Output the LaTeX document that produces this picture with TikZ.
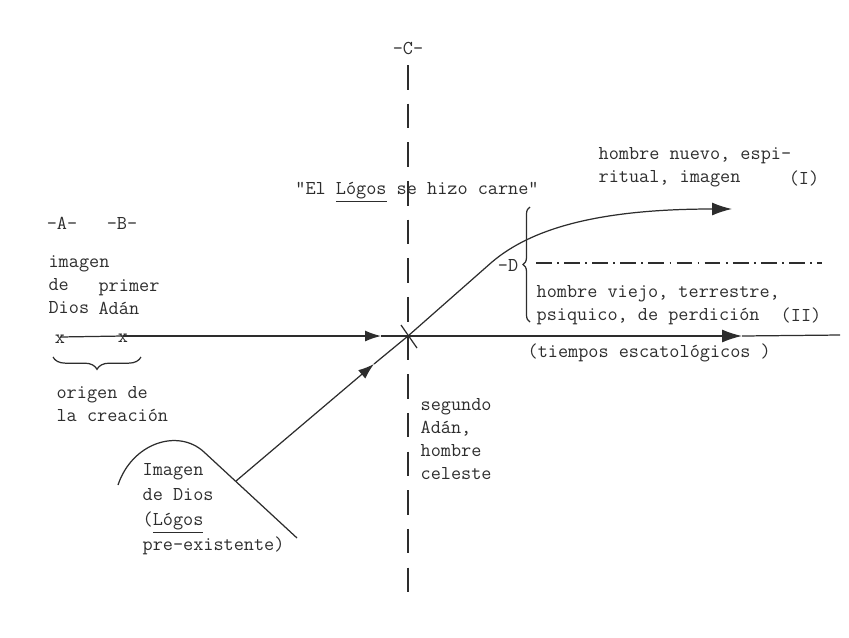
\documentclass[tikz,border=0pt]{standalone}
\usepackage{fontspec}
\usepackage{tikz}
\usetikzlibrary{arrows.meta,decorations.pathreplacing}
\definecolor{inkgray}{RGB}{45, 45, 45}

\begin{document}
\begin{tikzpicture}[x=0.02cm, y=-0.02cm, inkgray, line width=0.7pt,
    txt/.style={font=\ttfamily\fontsize{11.2}{13.1}\selectfont, inner sep=0pt, align=left},
    marktxt/.style={font=\ttfamily\fontsize{11.2}{13.1}\selectfont, inner sep=0pt},
    axisdash/.style={dash pattern=on 14pt off 8pt},
    dashdotline/.style={dash pattern=on 9pt off 3pt on 1pt off 3pt},
    arr/.style={-{Latex[length=3.2mm, width=2.2mm]}},
    bigarr/.style={-{Latex[length=4mm, width=2.6mm]}}]
        \useasboundingbox (0,0) rectangle (849,637);
        % points on the lines
        \coordinate (tA) at (60,337);
        \coordinate (tB) at (123,336);
        \node[marktxt, yshift=-1.2pt] (ptA) at (tA) {x};
        \node[marktxt, yshift=-1.2pt] (ptB) at (tB) {x};
        \coordinate (cross) at (408,336);
        \coordinate (harrow) at (381,336);
        \coordinate (rarrow) at (742,336);
        \coordinate (hend) at (840,335);
        \coordinate (vtop) at (408,65);
        \coordinate (vbot) at (408,603);
        \coordinate (hstart) at (236,481);
        \coordinate (darrow) at (374,364);
        \coordinate (bend) at (492,262);
        \coordinate (newend) at (732,209);
        % labels A B C D
        \node[marktxt] (labA) at (62,223) {-A-};
        \node[marktxt] (labB) at (122,223) {-B-};
        \node[marktxt] (labC) at (408,48) {-C-};
        \node[marktxt] (labD) at (508,265) {-D};
        % axis C
        \draw[axisdash] (vtop) -- (vbot);
        % time line
        \draw (tA) -- (tB);
        \draw[arr] (tB) -- (harrow);
        \draw (harrow) -- (cross);
        \draw[bigarr] (cross) -- (rarrow);
        \draw (rarrow) -- (hend);
        % pre-existent Logos
        \draw (118,485) .. controls (132,443) and (178,428) .. (204,452) -- (297,538);
        \draw[arr] (hstart) -- (darrow);
        \draw (darrow) -- (cross);
        \draw[bigarr] (cross) -- (bend) .. controls (532,228) and (600,209) .. (newend);
        \draw (401,325) -- (417,348);
        % old man line
        \draw[dashdotline] (536,263) -- (822,263);
        % braces
        \draw[decorate, decoration={brace, amplitude=7pt}] (141,357) -- (53,357);
        \draw[decorate, decoration={brace, amplitude=4pt}] (530,322) -- (530,207);
        % texts
        \node[txt, anchor=north west] (imgA) at (48,255) {imagen\\de\\Dios};
        \node[txt, anchor=north west] (adamB) at (98,279) {primer\\Adán};
        \node[txt, anchor=north west] (origen) at (56,386) {origen de\\la creación};
        \node[txt, anchor=north west, font=\ttfamily\fontsize{11.2}{14.2}\selectfont] (imgLogos) at (142,463)
            {Imagen\\de Dios\\(\underline{Lógos}\\pre-existente)};
        \node[txt, anchor=north west] (segundo) at (420,398) {segundo\\Adán,\\hombre\\celeste};
        \node[marktxt] (carne) at (417,192) {\symbol{34}El \underline{Lógos} se hizo carne\symbol{34}};
        \node[txt, anchor=north west] (nuevo) at (598,147) {hombre nuevo, espi-\\ritual, imagen};
        \node[marktxt] (numI) at (804,178) {(I)};
        \node[txt, anchor=north west] (viejo) at (536,285) {hombre viejo, terrestre,\\psiquico, de perdición};
        \node[marktxt] (numII) at (801,315) {(II)};
        \node[marktxt, anchor=west] (tiempos) at (527,353) {(tiempos escatológicos )};
    \end{tikzpicture}
\end{document}
